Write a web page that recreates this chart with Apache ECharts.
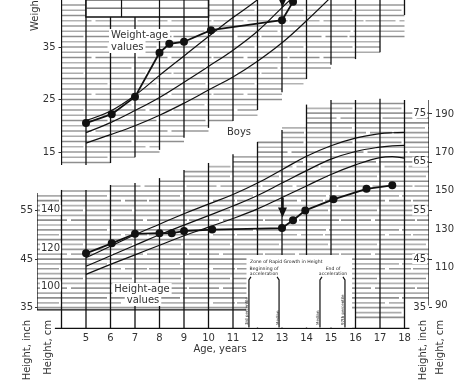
<!DOCTYPE html>
<html><head><meta charset="utf-8">
<script src="https://cdn.jsdelivr.net/npm/echarts@6/dist/echarts.min.js"></script>
<style>html,body{margin:0;padding:0;background:#fff}#c{width:473px;height:387px}</style>
</head><body><div id="c"></div>
<script>
// ---------- tick labels ----------
const ageTicks = [5,6,7,8,9,10,11,12,13,14,15,16,17,18];
const weightTicks = [15,25,35];
const cmTicksLeft = [100,120,140];
const inchTicksLeft = [35,45,55];
const inchTicksRight = [35,45,55,65,75];
const cmTicksRight = [90,110,130,150,170,190];

// ---------- patient values ----------
const weightAges   = [5,6.05,7,8,8.4,9,10.1,13,13.45];
const weightValues = [20.5,22.2,25.5,33.9,35.6,36.0,38.2,40.1,43.6];
const heightAges   = [5,6.05,7,8,8.5,9,10.15,13,13.45,13.95,15.1,16.45,17.5];
const heightValues = [117.3,122.5,127.5,127.8,127.8,128.9,129.7,130.5,134.6,139.7,145.5,151.0,152.8];

// ---------- reference curves ----------
const refWeightAges = [5,6,7,8,9,10,11,12,13,14,15];
const refWeightHigh = [21.0,22.8,25.8,29.6,33.3,37.0,40.6,44.0,48.0,53.0,58.0];
const refWeightMid  = [18.7,20.6,22.9,25.4,28.3,31.3,34.4,38.0,42.5,47.0,52.0];
const refWeightLow  = [16.7,18.3,20.0,22.0,24.3,26.8,29.3,32.3,35.8,40.0,44.5];
const refHeightAges = [5,6,7,8,9,10,11,12,13,14,15,16,17,17.5,18];
const refHeightHigh = [115.0,121.0,127.0,132.5,138.0,143.0,148.0,154.0,161.0,168.0,173.5,177.5,179.8,180.3,180.5];
const refHeightMid  = [110.5,116.0,121.5,127.0,132.0,137.0,142.0,147.5,154.0,160.5,166.5,170.5,172.8,173.4,173.7];
const refHeightLow  = [106.3,111.5,116.5,121.5,126.5,131.0,135.5,140.5,146.5,152.5,158.5,163.5,167.3,167.8,167.0];

// arrows (age, from, to)
const weightArrow = [13.02, 45.5, 43.5];
const heightArrow = [13.02, 146.3, 138.6];

// ---------- chart paper (ruled areas) ----------
const weightRuleEdges  = [4,5,6,7,8,9,10,11,12,13,14,15,16,17,18];
const weightRuleBottom = [12.5,12.7,13.5,14.7,16.5,18.6,20.2,22.0,24.7,27.6,30.3,32.2,33.4,36.5];
const weightRuleValues = [13,14,15,16,17,18,19,20,21,22,23,24,25,26,27,28,29,30,31,32,33,34,35,36,37,38,39,40,41,42,43];
const weightGridAges   = [4,5,6,7,8,9,10,11,12,13,14,15,16,17,18];
const weightGridBottom = [12.5,12.5,12.9,14.0,15.4,17.7,19.6,20.9,23.0,26.4,28.9,31.6,32.7,34.0,41.1];
const boxAges = [5,10];
const boxWeights = [40.7,44];
const boxInnerAges = [6.45,8,9];

const heightRuleEdges  = [3,4,5,6,7,8,9,10,11,12,13,14,15,16,17,18,19];
const heightRuleTop    = [148.8,150.4,150.4,153,153,156.6,160.8,164.5,168.7,175.5,184,193.7,197.4,197.4,197.4,192.2];
const heightRuleBottom = [87.7,87.7,87.7,87.7,87.7,87.7,87.7,87.7,87.7,87.7,87.7,87.7,87.7,81.4,81.4,92.9];
const heightRuleInches = [];
for (let i = 33; i <= 78; i++) heightRuleInches.push(i);
const heightGridAges   = [3,4,5,6,7,8,9,10,11,12,13,14,15,16,17,18,19];
const heightGridTop    = [148.8,150.4,150.4,153,154,156.6,160.8,164.5,169,175.5,181.7,195,197.4,197.4,198,197.4,197.4];
const heightGridBottom = [87.7,77.8,77.8,77.8,77.8,77.8,77.8,77.8,77.8,77.8,77.8,77.8,77.8,77.8,77.8,77.8,90];
const zoneBoxAges = [11.55,15.86];
const zoneBoxHeights = [77.8,116.4];
const zoneLineAges = [11.65,12.88,14.55,15.57];
const zoneLineTop = 103.4;

// ruled line styles (look of the printed paper)
const ruleColors = ['#8e8e8e','#ababab','#999999','#b3b3b3'];
const ruleDashes = [null,[46,3],null,[22,2,60,4],[70,3],null,[30,4,40,2]];

// axis extents
const W_MIN = -18.714, W_MAX = 43.952;
const H_MIN = 77.753, H_MAX = 249.645;

function line(p1, p2, stroke, w, dash) {
  const st = {stroke:stroke, lineWidth:w};
  if (dash) st.lineDash = dash;
  return {type:'line', shape:{x1:p1[0], y1:p1[1], x2:p2[0], y2:p2[1]}, style:st};
}

function ruleRender(edges, lows, highs, values, toAxis) {
  return function(params, api) {
    const ch = [];
    values.forEach(function(v0, k) {
      const v = toAxis(v0);
      let s = null, e = null;
      const push = function() {
        ch.push(line(api.coord([s, v]), api.coord([e, v]), ruleColors[k % ruleColors.length], 1.7,
          ruleDashes[k % ruleDashes.length]));
        s = null;
      };
      for (let i = 0; i < edges.length - 1; i++) {
        if (v >= lows[i] && v <= highs[i]) {
          if (s === null) s = edges[i];
          e = edges[i + 1];
        } else if (s !== null) push();
      }
      if (s !== null) push();
    });
    return {type:'group', children: ch};
  };
}

function vRender(ages, lows, highs, w) {
  return function(params, api) {
    const ch = ages.map(function(a, i) {
      return line(api.coord([a, lows[i]]), api.coord([a, highs[i]]), '#111', w);
    });
    return {type:'group', children: ch};
  };
}

const weightTops = weightGridAges.map(function(){ return W_MAX; });
const weightRuleTops = weightRuleBottom.map(function(){ return W_MAX; });

const chart = echarts.init(document.getElementById('c'));
const txt = '#333';
const font = 'DejaVu Sans';
const F10 = '10px "DejaVu Sans"';

function refLine(data, xi, yi) {
  return {type:'line', xAxisIndex:xi, yAxisIndex:yi, data: data, smooth:0.4, symbol:'none',
    lineStyle:{color:'#111', width:1.2}, z:4, silent:true, clip:true};
}
function pair(xs, ys){ return xs.map(function(x,i){ return [x, ys[i]]; }); }

function label(x, y, text, align, bg, extra) {
  const st = {text:text, fill:txt, font:F10, align:align, verticalAlign:'middle'};
  if (bg) { st.backgroundColor = '#fff'; st.padding = [1,2]; }
  const el = {type:'text', x:x, y:y, z:3, style:st};
  if (extra) Object.assign(el, extra);
  return el;
}
function tiny(x, y, text, size, align, rot) {
  const el = {type:'text', x:x, y:y, z:10, style:{text:text, fill:'#222', font:size + 'px "DejaVu Sans"',
    lineHeight:size + 0.6, align:align, verticalAlign:'middle'}};
  if (rot) el.rotation = rot;
  return el;
}

const option = {
  animation:false,
  backgroundColor:'#fff',
  textStyle:{fontFamily:font},
  grid:[
    {left:61.5, right:44, top:0, bottom:58, outerBoundsMode:'none', containLabel:false},
    {left:37, right:44, top:0, bottom:58, outerBoundsMode:'none', containLabel:false}
  ],
  xAxis:[
    {gridIndex:0, type:'value', min:4, max:19, show:false},
    {gridIndex:1, type:'value', min:3, max:19, interval:1, z:10,
      axisLine:{show:false, onZero:false}, axisTick:{show:false}, splitLine:{show:false},
      axisLabel:{customValues:ageTicks, margin:4, fontSize:10, color:txt, fontFamily:font}}
  ],
  yAxis:[
    {gridIndex:0, type:'value', min:W_MIN, max:W_MAX, position:'left', z:10,
      axisLine:{show:false}, splitLine:{show:false},
      axisTick:{show:true, customValues:weightTicks, length:3, lineStyle:{color:'#333'}},
      axisLabel:{customValues:weightTicks, margin:6, fontSize:10, color:txt, fontFamily:font}},
    {gridIndex:1, type:'value', min:H_MIN, max:H_MAX, position:'left', z:10,
      axisLine:{show:false}, splitLine:{show:false}, axisTick:{show:false},
      axisLabel:{customValues:cmTicksLeft, inside:true, margin:3, fontSize:10, color:txt, fontFamily:font,
        backgroundColor:'#fff', padding:[0,1]}},
    {gridIndex:1, type:'value', min:H_MIN/2.54, max:H_MAX/2.54, position:'left', z:10,
      axisLine:{show:false}, splitLine:{show:false},
      axisTick:{show:true, customValues:inchTicksLeft, length:2, lineStyle:{color:'#333'}},
      axisLabel:{customValues:inchTicksLeft, margin:4, fontSize:10, color:txt, fontFamily:font}},
    {gridIndex:1, type:'value', min:H_MIN/2.54, max:H_MAX/2.54, position:'right', z:10,
      axisLine:{show:false}, splitLine:{show:false},
      axisTick:{show:true, customValues:inchTicksRight, length:3, lineStyle:{color:'#333'}},
      axisLabel:{customValues:inchTicksRight, inside:true, margin:2, fontSize:10, color:txt, fontFamily:font,
        backgroundColor:'#fff', padding:[0,1]}},
    {gridIndex:1, type:'value', min:H_MIN, max:H_MAX, position:'right', z:10,
      axisLine:{show:false}, splitLine:{show:false}, axisTick:{show:false},
      axisLabel:{customValues:cmTicksRight, margin:6, fontSize:10, color:txt, fontFamily:font}}
  ],
  series:[
    // weight paper
    {type:'custom', xAxisIndex:0, yAxisIndex:0, data:[[10,20]], z:1, silent:true, clip:true,
      renderItem: ruleRender(weightRuleEdges, weightRuleBottom, weightRuleTops, weightRuleValues,
        function(v){return v;})},
    {type:'custom', xAxisIndex:0, yAxisIndex:0, data:[[10,20]], z:2, silent:true, clip:true,
      renderItem: vRender(weightGridAges, weightGridBottom, weightTops, 1.3)},
    {type:'custom', xAxisIndex:0, yAxisIndex:0, data:[[10,20]], z:2, silent:true, clip:true,
      renderItem: function(params, api) {
        const p1 = api.coord([boxAges[0], boxWeights[1]]), p2 = api.coord([boxAges[1], boxWeights[0]]);
        const ch = [{type:'rect', shape:{x:p1[0], y:p1[1], width:p2[0]-p1[0], height:p2[1]-p1[1]},
          style:{fill:'#fff', stroke:'#111', lineWidth:1.5}}];
        boxInnerAges.forEach(function(a){
          ch.push(line(api.coord([a, boxWeights[0]]), api.coord([a, boxWeights[1]]), '#111', 1.2));
        });
        ch.push(line(api.coord([boxAges[0], 42.4]), api.coord([boxAges[1], 42.4]), '#333', 1));
        return {type:'group', children:ch};
      }},
    refLine(pair(refWeightAges, refWeightHigh),0,0),
    refLine(pair(refWeightAges, refWeightMid),0,0),
    refLine(pair(refWeightAges, refWeightLow),0,0),
    {type:'line', xAxisIndex:0, yAxisIndex:0, data:pair(weightAges, weightValues), z:5, silent:true,
      symbol:'circle', symbolSize:8, itemStyle:{color:'#111'}, lineStyle:{color:'#111', width:1.8}},
    {type:'line', xAxisIndex:0, yAxisIndex:0, z:5, silent:true, clip:false,
      data:[{value:[weightArrow[0], weightArrow[1]], symbol:'none'},
            {value:[weightArrow[0], weightArrow[2]], symbol:'triangle', symbolRotate:180, symbolSize:[9,10]}],
      itemStyle:{color:'#111'}, lineStyle:{color:'#111', width:2.5}},

    // height paper
    {type:'custom', xAxisIndex:1, yAxisIndex:1, data:[[10,120]], z:1, silent:true, clip:true,
      renderItem: ruleRender(heightRuleEdges, heightRuleBottom, heightRuleTop, heightRuleInches,
        function(v){return v*2.54;})},
    {type:'custom', xAxisIndex:1, yAxisIndex:1, data:[[10,120]], z:2, silent:true, clip:true,
      renderItem: function(params, api) {
        const g = vRender(heightGridAges, heightGridBottom, heightGridTop, 1.3)(params, api);
        g.children.push(line(api.coord([3.73, H_MIN+0.3]), api.coord([18.2, H_MIN+0.3]), '#111', 1.3));
        g.children.push(line(api.coord([3, 87.7]), api.coord([11.55, 87.7]), '#111', 1.3));
        return g;
      }},
    {type:'custom', xAxisIndex:1, yAxisIndex:1, data:[[10,120]], z:2, silent:true, clip:true,
      renderItem: function(params, api) {
        const p1 = api.coord([zoneBoxAges[0], zoneBoxHeights[1]]), p2 = api.coord([zoneBoxAges[1], zoneBoxHeights[0]]);
        const ch = [{type:'rect', shape:{x:p1[0], y:p1[1], width:p2[0]-p1[0], height:p2[1]-p1[1]-1.5},
          style:{fill:'#fff'}}];
        zoneLineAges.forEach(function(a, i){
          const b = api.coord([a, H_MIN+0.8]), t = api.coord([a, zoneLineTop]);
          const dir = i % 2 === 0 ? 1 : -1;
          ch.push({type:'polyline', shape:{points:[[b[0], b[1]], [t[0], t[1]], [t[0]+dir*2, t[1]-3]]},
            style:{stroke:'#111', lineWidth:1.2, fill:null}});
        });
        return {type:'group', children:ch};
      }},
    refLine(pair(refHeightAges, refHeightHigh),1,1),
    refLine(pair(refHeightAges, refHeightMid),1,1),
    refLine(pair(refHeightAges, refHeightLow),1,1),
    {type:'line', xAxisIndex:1, yAxisIndex:1, data:pair(heightAges, heightValues), z:5, silent:true,
      symbol:'circle', symbolSize:8, itemStyle:{color:'#111'}, lineStyle:{color:'#111', width:1.8}},
    {type:'line', xAxisIndex:1, yAxisIndex:1, z:5, silent:true,
      data:[{value:[heightArrow[0], heightArrow[1]], symbol:'none'},
            {value:[heightArrow[0], heightArrow[2]], symbol:'triangle', symbolRotate:180, symbolSize:[9,10]}],
      itemStyle:{color:'#111'}, lineStyle:{color:'#111', width:2.5}}
  ],
  graphic:{elements:[
    label(35.5, 31, 'Weight, kg', 'left', false, {rotation:Math.PI/2}),
    label(27, 320, 'Height, inch', 'right', false, {rotation:Math.PI/2}),
    label(48, 320, 'Height, cm', 'right', false, {rotation:Math.PI/2}),
    label(423, 320, 'Height, inch', 'right', false, {rotation:Math.PI/2}),
    label(440, 320, 'Height, cm', 'right', false, {rotation:Math.PI/2}),
    label(220, 349, 'Age, years', 'center', false),
    label(109, 35, 'Weight-age', 'left', true),
    label(109, 47, 'values', 'left', true),
    label(239, 132, 'Boys', 'center', false),
    label(142, 289, 'Height-age', 'center', true),
    label(143, 300, 'values', 'center', true),
    tiny(250, 262, 'Zone of Rapid Growth in Height', 4.6, 'left'),
    tiny(264, 271, 'Beginning of\nacceleration', 4.6, 'center'),
    tiny(333, 271, 'End of\nacceleration', 4.6, 'center'),
    tiny(246.5, 325, '3rd percentile', 4, 'left', Math.PI/2),
    tiny(277.5, 325, 'Median', 4, 'left', Math.PI/2),
    tiny(318, 325, 'Median', 4, 'left', Math.PI/2),
    tiny(342.5, 325, '97th percentile', 4, 'left', Math.PI/2)
  ]}
};
chart.setOption(option);
</script></body></html>
